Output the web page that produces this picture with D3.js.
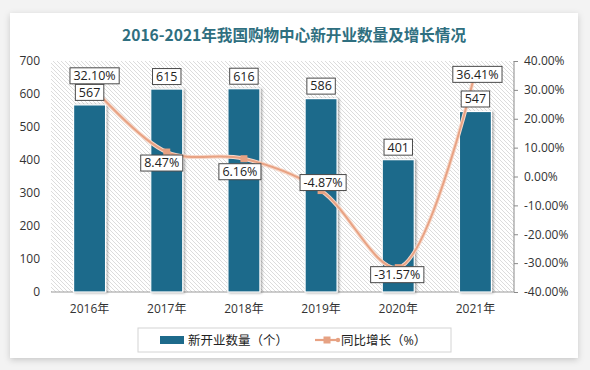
<!DOCTYPE html>
<html>
<head>
<meta charset="utf-8">
<script src="https://cdn.jsdelivr.net/npm/d3@7"></script>
<style>
  html, body { margin: 0; padding: 0; background: #f3f3f3; }
  svg { display: block; }
</style>
</head>
<body>
<svg id="chart" width="590" height="370"></svg>
<script>
"use strict";

// chart data
var years = ["2016年", "2017年", "2018年", "2019年", "2020年", "2021年"];
var counts = [567, 615, 616, 586, 401, 547];
var growth = [32.10, 8.47, 6.16, -4.87, -31.57, 36.41];
var leftTicks = [0, 100, 200, 300, 400, 500, 600, 700];
var rightTicks = [-40, -30, -20, -10, 0, 10, 20, 30, 40];

// label nudges for the growth boxes (dx, dy from the point)
var pctNudge = [[5, -8], [-5, 11], [-4, 13], [2, -8], [-1, 7], [2, 3]];

var barColor = "#1d6a8b";
var lineColor = "#e8a283";
var font = "'Open Sans', 'Noto Sans CJK SC', sans-serif";

var svg = d3.select("#chart");
var defs = svg.append("defs");

// card shadow
var sh = defs.append("filter").attr("id", "cardShadow")
    .attr("x", "-5%").attr("y", "-5%").attr("width", "110%").attr("height", "115%");
sh.append("feDropShadow").attr("dx", 0).attr("dy", 2).attr("stdDeviation", 3)
    .attr("flood-color", "#000").attr("flood-opacity", 0.18);

var bs = defs.append("filter").attr("id", "barShadow")
    .attr("x", "-30%").attr("y", "-10%").attr("width", "160%").attr("height", "120%");
bs.append("feDropShadow").attr("dx", 1.5).attr("dy", 0.5).attr("stdDeviation", 1.2)
    .attr("flood-color", "#000").attr("flood-opacity", 0.35);

// hatch pattern for the plot area
var pat = defs.append("pattern").attr("id", "hatch")
    .attr("patternUnits", "userSpaceOnUse").attr("width", 4).attr("height", 4);
pat.append("rect").attr("width", 4).attr("height", 4).attr("fill", "#ffffff");
pat.append("path").attr("d", "M-1,-1 L5,5 M-1,3 L1,5 M3,-1 L5,1")
    .attr("stroke", "#d8d8d8").attr("stroke-width", 0.9);

// card
svg.append("rect").attr("x", 10).attr("y", 13).attr("width", 568).attr("height", 345)
    .attr("fill", "#fff").attr("filter", "url(#cardShadow)");

// title
svg.append("text").attr("x", 294).attr("y", 41).attr("text-anchor", "middle")
    .attr("font-family", "'Noto Sans CJK SC', sans-serif").attr("font-weight", "bold")
    .attr("font-size", 16).attr("fill", "#2f6f80")
    .attr("textLength", 344).attr("lengthAdjust", "spacingAndGlyphs")
    .text("2016-2021年我国购物中心新开业数量及增长情况");

var plot = { left: 51, right: 514, top: 61, bottom: 292 };

var x = d3.scaleBand().domain(years).range([plot.left, plot.right]);
var yL = d3.scaleLinear().domain([0, 700]).range([plot.bottom, plot.top]);
var yR = d3.scaleLinear().domain([-40, 40]).range([plot.bottom, plot.top]);
var cx = function(d) { return x(d) + x.bandwidth() / 2; };

svg.append("rect").attr("x", plot.left).attr("y", plot.top)
    .attr("width", plot.right - plot.left).attr("height", plot.bottom - plot.top)
    .attr("fill", "url(#hatch)");

// left axis (labels only)
var gL = svg.append("g").attr("transform", "translate(" + plot.left + ",0)")
    .call(d3.axisLeft(yL).tickValues(leftTicks).tickSize(0).tickPadding(11));
gL.select(".domain").remove();

// right axis
var gR = svg.append("g").attr("transform", "translate(" + plot.right + ",0)")
    .call(d3.axisRight(yR).tickValues(rightTicks).tickSize(4).tickPadding(6)
        .tickFormat(function(d) { return d.toFixed(2) + "%"; }));
gR.select(".domain").attr("stroke", "#8a8a8a").attr("d", "M0," + plot.top + "V" + plot.bottom);
gR.selectAll(".tick line").attr("stroke", "#8a8a8a");

// bottom axis
var gB = svg.append("g").attr("transform", "translate(0," + plot.bottom + ")")
    .call(d3.axisBottom(x).tickSize(0).tickPadding(12));
gB.select(".domain").attr("stroke", "#9a9a9a").attr("d", "M" + plot.left + ",0H" + plot.right);

[gL, gR, gB].forEach(function(g) {
    g.selectAll("text").attr("font-family", font).attr("font-size", 12).attr("fill", "#333");
});

// bars
var barW = 32;
svg.append("g").selectAll("rect").data(counts).enter().append("rect")
    .attr("x", function(d, i) { return cx(years[i]) - barW / 2; })
    .attr("y", function(d) { return yL(d); })
    .attr("width", barW)
    .attr("height", function(d) { return yL(0) - yL(d); })
    .attr("fill", barColor)
    .attr("stroke", "#ffffff").attr("stroke-width", 1.2)
    .attr("filter", "url(#barShadow)");

// growth line
var pts = growth.map(function(d, i) { return [cx(years[i]), yR(d)]; });
var line = d3.line().curve(d3.curveCatmullRom.alpha(0.5));
svg.append("path").attr("d", line(pts)).attr("fill", "none")
    .attr("stroke", "#f6d8ca").attr("stroke-width", 4);
svg.append("path").attr("d", line(pts)).attr("fill", "none")
    .attr("stroke", lineColor).attr("stroke-width", 2);
svg.append("g").selectAll("rect").data(pts).enter().append("rect")
    .attr("x", function(d) { return d[0] - 3.5; })
    .attr("y", function(d) { return d[1] - 3.5; })
    .attr("width", 7).attr("height", 7)
    .attr("fill", "#e6a283");

// boxed labels
function boxLabel(txt, x0, y0) {
    var g = svg.append("g");
    var rect = g.append("rect");
    var t = g.append("text").attr("x", x0).attr("y", y0).attr("dy", "0.35em")
        .attr("text-anchor", "middle").attr("font-family", font)
        .attr("font-size", 12.5).attr("fill", "#222").text(txt);
    var b = t.node().getBBox();
    rect.attr("x", b.x - 3.5).attr("y", y0 - 8)
        .attr("width", b.width + 7).attr("height", 16)
        .attr("fill", "#fff").attr("stroke", "#4a4a4a").attr("stroke-width", 1);
}

counts.forEach(function(d, i) {
    boxLabel(String(d), cx(years[i]), yL(d) - 12.5);
});
growth.forEach(function(d, i) {
    boxLabel(d.toFixed(2) + "%", pts[i][0] + pctNudge[i][0], pts[i][1] + pctNudge[i][1]);
});

// legend
var lg = svg.append("g");
lg.append("rect").attr("x", 138).attr("y", 328).attr("width", 313).attr("height", 24)
    .attr("fill", "#fff").attr("stroke", "#d4d4d4");
lg.append("rect").attr("x", 160).attr("y", 336).attr("width", 24).attr("height", 8)
    .attr("fill", barColor);
lg.append("text").attr("x", 188).attr("y", 345).attr("font-family", font)
    .attr("font-size", 12.5).attr("fill", "#222").text("新开业数量（个）");
lg.append("line").attr("x1", 315).attr("x2", 339).attr("y1", 340).attr("y2", 340)
    .attr("stroke", lineColor).attr("stroke-width", 2.2);
lg.append("rect").attr("x", 323.5).attr("y", 336.5).attr("width", 7).attr("height", 7)
    .attr("fill", "#e6a283");
lg.append("circle").attr("cx", 338).attr("cy", 340).attr("r", 2.2).attr("fill", "#e6a283");
lg.append("text").attr("x", 341).attr("y", 345).attr("font-family", font)
    .attr("font-size", 12.5).attr("fill", "#222").text("同比增长（%）");
</script>
</body>
</html>
